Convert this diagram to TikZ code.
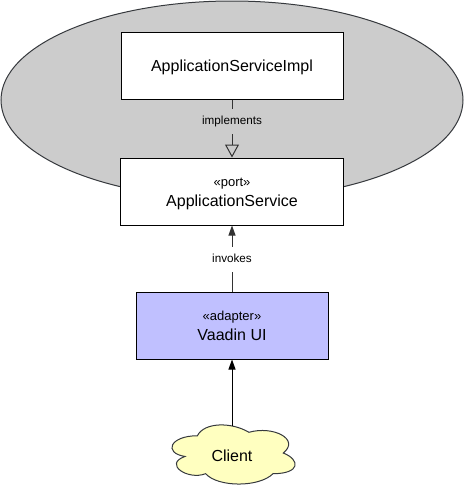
\documentclass[tikz,border=0pt]{standalone}
\usepackage{fontspec}
\setmainfont{Liberation Sans}
\usetikzlibrary{arrows.meta}
\definecolor{ellfill}{HTML}{CCCCCC}
\definecolor{ellline}{HTML}{36393D}
\definecolor{adapterfill}{HTML}{C0C0FF}
\definecolor{cloudfill}{HTML}{FFFFC0}
\definecolor{conn}{HTML}{333333}
\tikzset{
  box/.style={draw=black, line width=1pt, fill=white, minimum width=222pt, minimum height=67pt, inner sep=0pt},
  bigtext/.style={font=\fontsize{16}{19}\selectfont, inner sep=0pt, anchor=base},
  sttext/.style={font=\fontsize{13}{15}\selectfont, inner sep=0pt, anchor=base},
  lbl/.style={font=\fontsize{11.7}{14}\selectfont, text height=8.6pt, text depth=2.5pt, minimum height=25pt, inner xsep=1pt, inner ysep=0pt},
  conline/.style={draw=conn, line width=1pt},
}
\begin{document}
\begin{tikzpicture}[x=1pt,y=-1pt]
\useasboundingbox (0,0) rectangle (465,485);
% hexagon/ellipse boundary
\draw[fill=ellfill, draw=ellline, line width=1pt] (232,100) ellipse [x radius=231, y radius=99];
% boxes
\node[box] (impl) at (232,65.5) {};
\node[bigtext] (impltext) at (232,71.5) {ApplicationServiceImpl};
\node[box, minimum width=223pt] (port) at (231.5,191.5) {};
\node[sttext] (portst) at (232,186.5) {«port»};
\node[bigtext] (porttext) at (232,206) {ApplicationService};
\node[box, fill=adapterfill, minimum width=192pt] (vaadin) at (232,325.5) {};
\node[sttext] (vaadinst) at (232,320) {«adapter»};
\node[bigtext] (vaadintext) at (232,340) {Vaadin UI};
% cloud
\draw[fill=cloudfill, draw=ellline, line width=1pt]
  (197.375,435.75)
  .. controls (169.875,435.75) and (163,453) .. (185,456.45)
  .. controls (163,464.04) and (187.75,480.6) .. (205.625,473.7)
  .. controls (218,487.5) and (259.25,487.5) .. (273,473.7)
  .. controls (300.5,473.7) and (300.5,459.9) .. (283.3125,453)
  .. controls (300.5,439.2) and (273,425.4) .. (248.9375,432.3)
  .. controls (231.75,421.95) and (204.25,421.95) .. (197.375,435.75)
  -- cycle;
\coordinate (cloudtop) at (232,425.5);
\node[bigtext] (client) at (232,461) {Client};
% connectors
\draw[conline, -{Triangle[open, length=13pt, width=14pt]}] (impl.south) -- (port.north -| impl.south);
\node[lbl, fill=ellfill] (implbl) at (232,121.5) {implements};
\draw[conline, -{Triangle[length=10pt, width=7pt]}] (vaadin.north) -- (port.south -| vaadin.north);
\node[lbl, fill=white] (invlbl) at (232,259) {invokes};
\draw[draw=black, line width=1pt, -{Triangle[length=10pt, width=7pt]}] (cloudtop) -- (vaadin.south);
\end{tikzpicture}
\end{document}
